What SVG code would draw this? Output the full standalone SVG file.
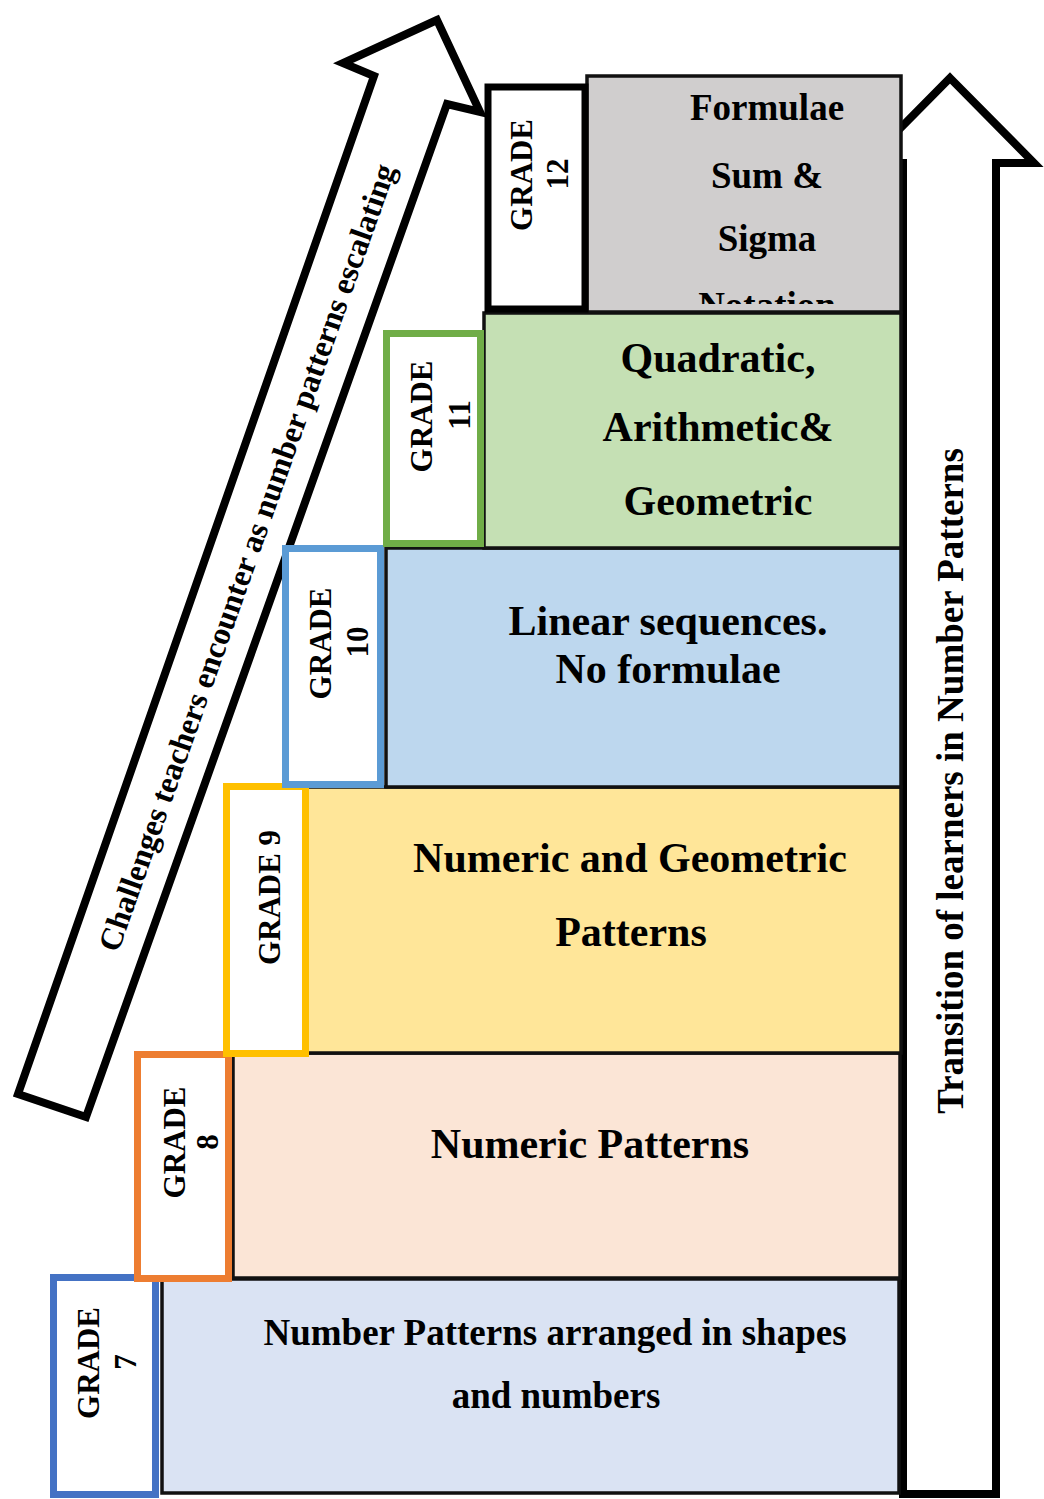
<svg xmlns="http://www.w3.org/2000/svg" width="1044" height="1499" viewBox="0 0 1044 1499">
  <style>
    text { font-family: "Liberation Serif", "Times New Roman", serif; font-weight: bold; fill: #000; }
    .topic { font-size: 42px; text-anchor: middle; }
    .topic-sm { font-size: 37px; text-anchor: middle; }
    .grade { font-size: 31px; text-anchor: middle; }
    .content { stroke: #111; stroke-width: 3.5; }
    .label { fill: #fff; stroke-width: 7; }
    .block-arrow { fill: #fff; stroke: #000; stroke-width: 8; stroke-linejoin: miter; }
    .arrow-text { font-size: 32px; text-anchor: middle; }
    .side-text { font-size: 37px; text-anchor: middle; }
  </style>
  <defs>
    <clipPath id="clip-g12">
      <rect x="589" y="78" width="310" height="226"/>
    </clipPath>
  </defs>
  <rect width="1044" height="1499" fill="#fff"/>

  <!-- Block arrows -->
  <g id="connectors">
    <g id="arrow-challenges">
      <polygon class="block-arrow" points="437,20 343,63 374,76 18,1094 86,1117 447,104 480,112"/>
      <text class="arrow-text" transform="translate(257,561) rotate(-70.5)">Challenges teachers encounter as number patterns escalating</text>
    </g>
    <g id="arrow-transition">
      <polygon class="block-arrow" points="950,78 1034,163 996,163 996,1494 903,1494 903,163 866,163"/>
      <text class="side-text" transform="translate(963,781) rotate(-90)">Transition of learners in Number Patterns</text>
    </g>
  </g>

  <!-- Grade 7 -->
  <g id="grade-7">
    <rect class="content" x="162" y="1279" width="737" height="214" fill="#dae3f3"/>
    <rect class="label" x="53.5" y="1277.5" width="102" height="217" stroke="#4472c4"/>
    <text class="grade" transform="translate(99,1363) rotate(-90)">GRADE</text>
    <text class="grade" transform="translate(136,1362) rotate(-90)">7</text>
    <text class="topic-sm" x="555" y="1345">Number Patterns arranged in shapes</text>
    <text class="topic-sm" x="556" y="1408">and numbers</text>
  </g>

  <!-- Grade 8 -->
  <g id="grade-8">
    <rect class="content" x="233" y="1053" width="667" height="225" fill="#fbe5d6"/>
    <rect class="label" x="137.5" y="1054.5" width="91" height="224" stroke="#ed7d31"/>
    <text class="grade" transform="translate(185,1142.5) rotate(-90)">GRADE</text>
    <text class="grade" transform="translate(218,1142) rotate(-90)">8</text>
    <text class="topic" x="590" y="1158">Numeric Patterns</text>
  </g>

  <!-- Grade 9 -->
  <g id="grade-9">
    <rect class="content" x="305" y="787" width="596" height="266" fill="#ffe699"/>
    <rect class="label" x="226.5" y="786.5" width="79" height="267" stroke="#ffc000"/>
    <text class="grade" transform="translate(280,897.5) rotate(-90)">GRADE 9</text>
    <text class="topic" x="630" y="872">Numeric and Geometric</text>
    <text class="topic" x="631" y="946">Patterns</text>
  </g>

  <!-- Grade 10 -->
  <g id="grade-10">
    <rect class="content" x="386" y="548" width="515" height="239" fill="#bdd7ee"/>
    <rect class="label" x="285.5" y="548.5" width="95" height="236" stroke="#5b9bd5"/>
    <text class="grade" transform="translate(331,643.5) rotate(-90)">GRADE</text>
    <text class="grade" transform="translate(368,642) rotate(-90)">10</text>
    <text class="topic" x="668" y="635">Linear sequences.</text>
    <text class="topic" x="668" y="683">No formulae</text>
  </g>

  <!-- Grade 11 -->
  <g id="grade-11">
    <rect class="content" x="484" y="313" width="417" height="235" fill="#c5e0b4"/>
    <rect class="label" x="386.5" y="333.5" width="94" height="210" stroke="#70ad47"/>
    <text class="grade" transform="translate(432,416.5) rotate(-90)">GRADE</text>
    <text class="grade" transform="translate(470,415) rotate(-90)">11</text>
    <text class="topic" x="718" y="372">Quadratic,</text>
    <text class="topic" x="718" y="441">Arithmetic&amp;</text>
    <text class="topic" x="718" y="515">Geometric</text>
  </g>

  <!-- Grade 12 -->
  <g id="grade-12">
    <rect class="content" x="587" y="76" width="314" height="236" fill="#d0cece" stroke="#222"/>
    <rect class="label" x="488" y="87" width="97" height="222" stroke="#000" stroke-width="8"/>
    <text class="grade" transform="translate(532,175) rotate(-90)">GRADE</text>
    <text class="grade" transform="translate(568,174) rotate(-90)">12</text>
    <g clip-path="url(#clip-g12)">
      <text class="topic-sm" x="767" y="120">Formulae</text>
      <text class="topic-sm" x="767" y="188">Sum &amp;</text>
      <text class="topic-sm" x="767" y="251">Sigma</text>
      <text class="topic-sm" x="767" y="318">Notation</text>
    </g>
  </g>
</svg>
